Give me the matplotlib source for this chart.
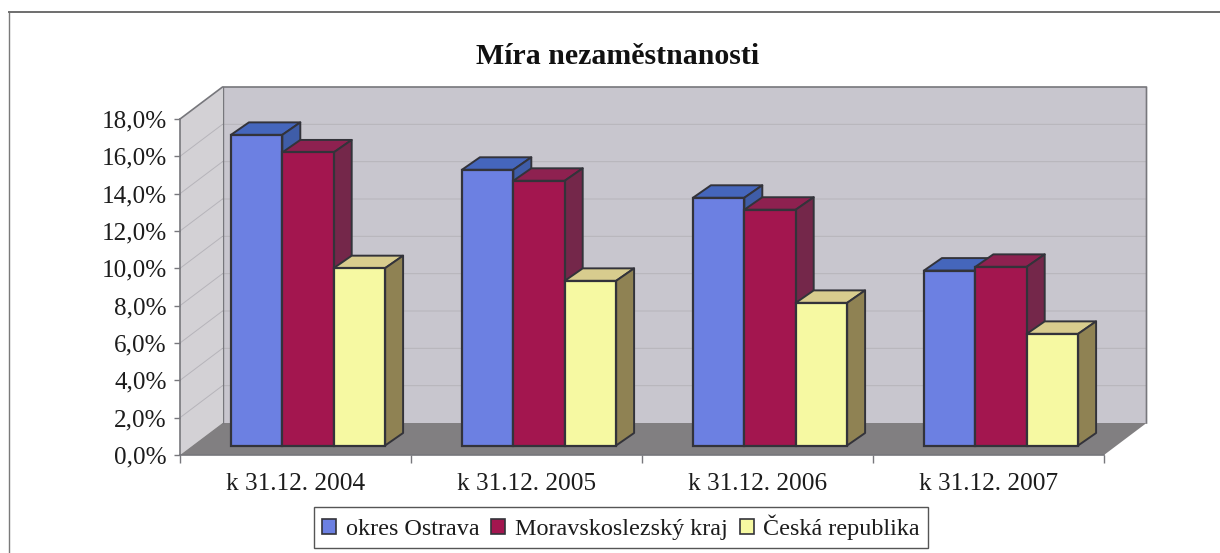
import matplotlib
matplotlib.use("Agg")
import matplotlib.pyplot as plt
from matplotlib.lines import Line2D
from matplotlib.patches import Polygon, Patch

categories = ["k 31.12. 2004", "k 31.12. 2005", "k 31.12. 2006", "k 31.12. 2007"]
series_names = ["okres Ostrava", "Moravskoslezský kraj", "Česká republika"]
ostrava = [16.64, 14.77, 13.27, 9.37]
kraj = [15.70, 14.18, 12.63, 9.57]
cr = [9.50, 8.82, 7.64, 5.98]
values = [ostrava, kraj, cr]
yticks = [0, 2, 4, 6, 8, 10, 12, 14, 16, 18]

front = ["#6C80E2", "#A3164F", "#F6F9A2"]
tops = ["#4566BC", "#8E2150", "#D8CC8E"]
sides = ["#3F5DA8", "#74274A", "#8F8253"]
edge = "#33333A"

W, H = 1220, 553
plt.rcParams["font.family"] = ["Liberation Serif", "DejaVu Serif"]
fig = plt.figure(figsize=(W / 100, H / 100), dpi=100, facecolor="white")
L, R, T, B = 180, 1104, 119, 455
ax = fig.add_axes([L / W, 1 - B / H, (R - L) / W, (B - T) / H])
ax.set_xlim(0, 4)
ax.set_ylim(0, 18)
ax.patch.set_alpha(0)

px_x = 4 / (R - L)
px_y = 18 / (B - T)
wall_dx, wall_dy = 42.5 * px_x, 32 * px_y      # depth of the plot box
bar_dx, bar_dy = 12.5 * px_x, 9.5 * px_y       # bar front plane inside the box
depth_dx, depth_dy = 18 * px_x, 12.5 * px_y    # depth of one bar
bar_w = 51.4 * px_x


def poly(points, fc, ec="none", lw=0, z=1):
    ax.add_patch(Polygon(points, closed=True, facecolor=fc, edgecolor=ec,
                         linewidth=lw, clip_on=False, zorder=z, joinstyle="round"))


# walls and floor
poly([(wall_dx, wall_dy), (4 + wall_dx, wall_dy), (4 + wall_dx, 18 + wall_dy), (wall_dx, 18 + wall_dy)], "#C8C6CE")
poly([(0, 0), (wall_dx, wall_dy), (wall_dx, 18 + wall_dy), (0, 18)], "#D3D1D5")
poly([(0, 0), (4, 0), (4 + wall_dx, wall_dy), (wall_dx, wall_dy)], "#817F81")
grid_c = "#B6B4BA"
for t in yticks[1:-1]:
    ax.plot([0, wall_dx, 4 + wall_dx], [t, t + wall_dy, t + wall_dy], color=grid_c, lw=0.7,
            clip_on=False, zorder=1.5)
frame_c = "#77777C"
ax.plot([0, wall_dx, 4 + wall_dx, 4 + wall_dx], [18, 18 + wall_dy, 18 + wall_dy, wall_dy],
        color=frame_c, lw=1.2, clip_on=False, zorder=1.6)
ax.plot([wall_dx, wall_dx], [wall_dy, 18 + wall_dy], color=frame_c, lw=1.0, clip_on=False, zorder=1.6)

# bars
for s, vals in enumerate(values):
    z = 3 + s
    xs = [i + 0.5 + bar_dx + (s - 1) * bar_w for i in range(len(vals))]
    ax.bar(xs, vals, width=bar_w, bottom=bar_dy, color=front[s], edgecolor=edge,
           linewidth=1.6, zorder=z + 0.2, clip_on=False)
    for x, v in zip(xs, vals):
        x0, x1 = x - bar_w / 2, x + bar_w / 2
        y0, y1 = bar_dy, bar_dy + v
        poly([(x0, y1), (x1, y1), (x1 + depth_dx, y1 + depth_dy), (x0 + depth_dx, y1 + depth_dy)],
             tops[s], edge, 1.4, z)
        poly([(x1, y0), (x1 + depth_dx, y0 + depth_dy), (x1 + depth_dx, y1 + depth_dy), (x1, y1)],
             sides[s], edge, 1.4, z)

# axes
for name in ("top", "right"):
    ax.spines[name].set_visible(False)
for name in ("left", "bottom"):
    ax.spines[name].set_color(frame_c)
    ax.spines[name].set_linewidth(1.2)
    ax.spines[name].set_zorder(2)
ax.set_yticks(yticks)
ax.set_yticklabels([f"{t:.1f}".replace(".", ",") + "%" for t in yticks])
ax.tick_params(axis="y", length=4, width=1.0, color=frame_c, labelsize=18.1, pad=5.4, labelcolor="#1c1c1c")
ax.set_xticks([i + 0.5 for i in range(4)])
ax.set_xticklabels(categories)
ax.set_xticks(range(5), minor=True)
ax.tick_params(axis="x", which="major", length=0, labelsize=18.2, pad=13, labelcolor="#1c1c1c")
ax.tick_params(axis="x", which="minor", length=6, width=1.0, color=frame_c)

fig.text(617.5 / W, 1 - 56.5 / H, "Míra nezaměstnanosti", ha="center", va="center",
         fontsize=21.5, fontweight="bold", color="#111111")

handles = [Patch(facecolor=front[i], edgecolor=edge, linewidth=1.2, label=series_names[i]) for i in range(3)]
leg = fig.legend(handles=handles, loc="center", bbox_to_anchor=(621 / W, 1 - 527.5 / H),
                 ncol=3, frameon=True, fancybox=False, edgecolor="#555555", framealpha=1,
                 fontsize=17.4, handlelength=0.58, handleheight=0.58, handletextpad=0.4,
                 columnspacing=0.5, borderpad=0.32, labelcolor="#1c1c1c")
leg.get_frame().set_linewidth(1.0)

# chart-area border
fig.add_artist(Line2D([8.5 / W, 8.5 / W], [0, 1 - 12 / H], color="#7A7A7A", lw=1.0))
fig.add_artist(Line2D([8.5 / W, 1], [1 - 12 / H, 1 - 12 / H], color="#6E6E6E", lw=1.4))

fig.savefig("out.png", dpi=100, facecolor="white")
